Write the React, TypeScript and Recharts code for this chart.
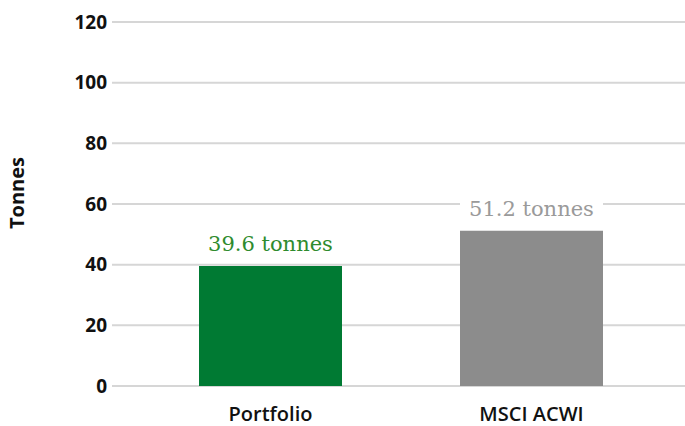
import React from 'react';
import { BarChart, Bar, XAxis, YAxis, CartesianGrid, Cell, LabelList } from 'recharts';

const categories = ['Portfolio', 'MSCI ACWI'];
const tonnes = [39.6, 51.2];
const barColors = ['#007a33', '#8c8c8c'];
const labelColors = ['#2e8b2e', '#9a9a9a'];
const yTicks = [0, 20, 40, 60, 80, 100, 120];

const data = categories.map((name, i) => ({ name, value: tonnes[i] }));

const SANS = '"Open Sans", "Noto Sans", sans-serif';
const SERIF = '"DejaVu Serif", serif';

const renderBarLabel = (props: any) => {
  const { x, y, width, value, index } = props;
  const cx = x + width / 2;
  const baseline = y - 15;
  return (
    <g>
      <rect x={x} y={baseline - 20} width={width} height={26} fill="#ffffff" />
      <text
        x={cx}
        y={baseline}
        textAnchor="middle"
        fill={labelColors[index]}
        fontFamily={SERIF}
        fontSize={21}
      >
        {`${value} tonnes`}
      </text>
    </g>
  );
};

const renderYLabel = (props: any) => {
  const { viewBox } = props;
  const x = viewBox.x + 16;
  const y = viewBox.y + viewBox.height / 2 - 11;
  return (
    <text
      x={x}
      y={y}
      transform={`rotate(-90, ${x}, ${y})`}
      textAnchor="middle"
      dominantBaseline="central"
      fontFamily={SANS}
      fontWeight="bold"
      fontSize={20}
      fill="#111"
    >
      Tonnes
    </text>
  );
};

export default function App() {
  return (
    <div style={{ position: 'absolute', left: 0, top: 0, width: 685, height: 426, background: '#fff' }}>
      <BarChart width={685} height={426} data={data} margin={{ top: 22, right: 0, bottom: 0, left: 0 }}>
        <CartesianGrid vertical={false} stroke="#d6d6d6" strokeWidth={2} />
        <XAxis
          dataKey="name"
          height={40}
          axisLine={false}
          tickLine={false}
          tickSize={0}
          tickMargin={21}
          padding={{ left: 28, right: 23 }}
          tick={{ fontFamily: SANS, fontWeight: 600, fontSize: 20, fill: '#111' }}
        />
        <YAxis
          width={112}
          domain={[0, 120]}
          ticks={yTicks}
          axisLine={false}
          tickLine={false}
          tickSize={0}
          tickMargin={5}
          tick={{ fontFamily: SANS, fontWeight: 'bold', fontSize: 19, fill: '#111' }}
          label={{ content: renderYLabel }}
        />
        <Bar dataKey="value" barSize={143} isAnimationActive={false}>
          {data.map((d, i) => (
            <Cell key={d.name} fill={barColors[i]} />
          ))}
          <LabelList dataKey="value" content={renderBarLabel} />
        </Bar>
      </BarChart>
    </div>
  );
}
